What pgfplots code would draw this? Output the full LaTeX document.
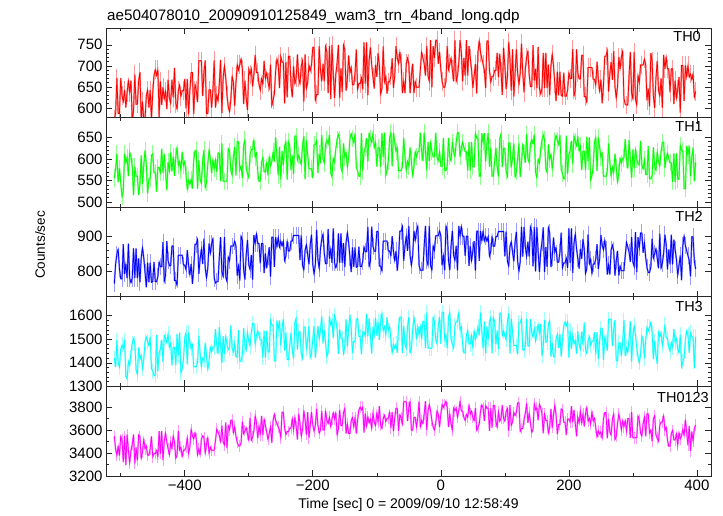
\documentclass[border=0pt]{standalone}
\usepackage{fontspec}
\setmainfont{Liberation Sans}
\usepackage{pgfplots}
\usepackage{pgfplotstable}
\pgfplotsset{compat=1.18}
\definecolor{cR}{RGB}{255,0,0}
\definecolor{cG}{RGB}{0,255,0}
\definecolor{cB}{RGB}{0,0,255}
\definecolor{cC}{RGB}{0,255,255}
\definecolor{cM}{RGB}{255,0,255}
\pgfplotstableread{
t a b c d e
-510 573 556 766 1420 3546
-508 587 578 822 1382 3434
-506 671 612 850 1496 3378
-504 587 546 864 1400 3462
-502 587 578 808 1382 3378
-500 671 546 780 1458 3546
-498 629 512 780 1476 3514
-496 615 524 878 1458 3322
-494 643 612 794 1496 3546
-492 601 590 822 1344 3294
-490 637 604 782 1331 3561
-488 665 560 880 1407 3421
-486 637 616 782 1389 3314
-484 665 604 768 1445 3421
-482 567 582 782 1483 3475
-480 595 516 866 1503 3561
-478 679 582 782 1483 3309
-476 609 560 866 1369 3449
-474 609 560 782 1351 3337
-472 665 516 838 1465 3561
-470 685 542 770 1414 3544
-468 573 608 840 1434 3352
-466 615 542 868 1376 3408
-464 573 586 840 1414 3520
-462 573 620 798 1490 3436
-460 629 586 756 1510 3464
-458 643 520 826 1490 3380
-456 601 554 770 1472 3380
-454 643 554 826 1510 3436
-452 573 608 770 1376 3544
-450 635 612 772 1365 3367
-448 677 568 828 1345 3395
-446 691 568 772 1345 3395
-444 677 524 772 1517 3423
-442 691 580 786 1365 3367
-440 579 580 828 1441 3591
-438 663 568 814 1459 3395
-436 607 624 814 1497 3591
-434 649 568 884 1403 3339
-432 621 612 772 1517 3507
-430 639 571 789 1503 3574
-428 597 527 887 1485 3494
-426 667 593 831 1523 3438
-424 625 571 817 1465 3382
-422 611 615 817 1485 3494
-420 667 571 873 1389 3438
-418 625 605 873 1465 3550
-416 695 561 775 1465 3494
-414 611 605 775 1389 3354
-412 597 627 761 1523 3382
-410 641 585 847 1432 3592
-408 655 595 847 1528 3424
-406 627 573 847 1356 3452
-404 641 617 847 1376 3368
-402 641 585 819 1414 3424
-400 669 595 819 1508 3424
-398 599 563 805 1528 3452
-396 669 529 861 1394 3536
-394 585 551 819 1528 3396
-392 641 541 791 1490 3452
-390 684 553 822 1459 3606
-388 684 531 766 1477 3550
-386 586 597 808 1383 3522
-384 656 619 878 1383 3578
-382 642 619 878 1383 3522
-380 614 531 892 1401 3382
-378 712 597 794 1515 3438
-376 712 553 836 1439 3382
-374 712 543 864 1383 3522
-372 628 597 822 1421 3550
-370 685 621 894 1409 3536
-368 713 533 810 1485 3396
-366 587 545 782 1429 3480
-364 587 589 810 1371 3536
-362 643 621 880 1409 3396
-360 643 599 852 1467 3452
-358 601 567 880 1447 3424
-356 643 599 894 1467 3424
-354 713 577 782 1467 3424
-352 601 599 768 1543 3508
-350 630 570 772 1475 3610
-348 616 614 772 1437 3582
-346 658 614 842 1551 3554
-344 714 548 898 1475 3498
-342 588 636 800 1399 3638
-340 672 548 786 1513 3498
-338 700 548 898 1437 3470
-336 672 548 786 1513 3666
-334 630 548 772 1475 3442
-332 602 624 842 1455 3638
-330 591 618 831 1463 3602
-328 619 574 873 1559 3686
-326 675 562 873 1463 3686
-324 661 606 873 1445 3574
-322 605 628 887 1483 3630
-320 661 562 873 1425 3546
-318 703 640 789 1425 3490
-316 689 640 817 1539 3462
-314 703 574 775 1407 3462
-312 717 584 901 1407 3490
-310 693 556 890 1433 3674
-308 609 632 806 1547 3566
-306 665 644 778 1471 3594
-304 623 578 848 1453 3622
-302 595 566 890 1529 3566
-300 693 556 820 1491 3510
-298 679 610 806 1471 3706
-296 693 622 848 1529 3510
-294 651 622 778 1567 3538
-292 679 644 904 1567 3594
-290 726 604 880 1478 3724
-288 684 614 908 1516 3668
-286 684 570 880 1536 3528
-284 656 548 880 1516 3640
-282 642 548 824 1498 3556
-280 670 592 880 1498 3724
-278 656 604 880 1422 3556
-276 712 570 796 1536 3696
-274 670 570 852 1422 3640
-272 684 592 810 1536 3584
-270 661 562 842 1446 3516
-268 647 606 870 1446 3572
-266 703 584 786 1580 3628
-264 605 594 898 1560 3488
-262 619 616 898 1560 3684
-260 633 594 814 1408 3740
-258 689 650 898 1408 3684
-256 717 606 870 1580 3656
-254 703 562 898 1542 3628
-252 647 628 870 1580 3600
-250 723 552 887 1472 3532
-248 709 618 873 1548 3756
-246 709 586 887 1586 3756
-244 611 630 831 1452 3616
-242 709 640 845 1528 3560
-240 625 552 887 1414 3588
-238 723 640 859 1414 3588
-236 723 630 859 1472 3616
-234 653 574 887 1528 3616
-232 625 608 887 1452 3700
-230 699 565 903 1418 3602
-228 657 653 903 1570 3714
-226 671 653 903 1590 3630
-224 727 597 903 1456 3518
-222 671 609 903 1532 3742
-220 657 597 833 1532 3658
-218 699 587 903 1438 3546
-216 713 631 819 1418 3602
-214 615 653 805 1552 3770
-212 727 553 861 1552 3686
-210 646 643 877 1460 3560
-208 660 611 849 1498 3756
-206 702 577 821 1556 3532
-204 688 577 877 1422 3644
-202 702 577 905 1442 3756
-200 744 555 821 1498 3644
-198 744 633 793 1556 3588
-196 618 633 821 1422 3644
-194 632 643 919 1480 3784
-192 632 567 835 1556 3644
-190 747 612 809 1501 3572
-188 691 590 865 1539 3600
-186 663 656 893 1597 3764
-184 705 600 907 1483 3600
-182 663 590 851 1539 3600
-180 747 634 823 1483 3764
-178 733 644 823 1425 3684
-176 635 634 921 1445 3656
-174 747 656 837 1597 3712
-172 621 568 865 1559 3628
-170 750 558 825 1580 3696
-168 680 602 923 1504 3752
-166 624 592 825 1600 3696
-164 680 624 811 1580 3752
-162 708 646 825 1542 3556
-160 750 658 909 1438 3612
-158 624 646 825 1542 3776
-156 694 580 909 1504 3640
-154 638 570 825 1504 3640
-152 750 636 881 1438 3752
-150 739 603 813 1470 3789
-148 641 615 883 1584 3569
-146 669 581 911 1470 3653
-144 725 603 883 1546 3569
-142 683 647 841 1604 3569
-140 697 659 799 1546 3681
-138 655 647 869 1442 3709
-136 655 637 813 1490 3625
-134 683 659 869 1490 3709
-132 739 581 813 1584 3569
-130 644 572 815 1588 3689
-128 658 560 871 1512 3773
-126 658 560 815 1512 3801
-124 672 660 815 1436 3773
-122 644 572 829 1532 3801
-120 756 616 871 1532 3577
-118 658 626 857 1512 3745
-116 756 648 857 1608 3633
-114 630 594 927 1512 3717
-112 714 660 815 1588 3661
-110 744 648 830 1515 3696
-108 702 638 928 1439 3612
-106 674 660 872 1553 3752
-104 646 626 858 1515 3668
-102 702 638 858 1591 3640
-100 674 582 914 1515 3752
-98 730 626 914 1573 3668
-96 702 626 816 1497 3808
-94 632 582 816 1573 3640
-92 646 660 802 1611 3612
-90 746 605 887 1537 3702
-88 662 661 887 1555 3730
-86 676 561 887 1517 3674
-84 634 573 887 1593 3702
-82 662 595 859 1537 3702
-80 662 649 859 1555 3758
-78 676 661 845 1499 3618
-76 718 583 901 1441 3758
-74 648 661 859 1479 3590
-72 676 639 831 1461 3702
-70 747 617 859 1480 3790
-68 719 627 803 1442 3790
-66 705 573 845 1556 3594
-64 733 573 915 1594 3734
-62 705 573 915 1594 3706
-60 635 583 929 1442 3650
-58 663 649 831 1556 3846
-56 635 605 873 1480 3846
-54 705 573 901 1462 3846
-52 719 595 859 1556 3678
-50 705 583 930 1594 3794
-48 635 627 846 1442 3850
-46 677 595 818 1462 3598
-44 705 561 846 1538 3598
-42 635 583 916 1594 3710
-40 663 617 888 1556 3710
-38 649 605 916 1500 3626
-36 649 617 930 1556 3710
-34 649 617 818 1518 3850
-32 691 661 804 1556 3626
-30 733 617 804 1500 3683
-28 719 595 804 1576 3655
-26 705 661 874 1576 3739
-24 677 617 930 1462 3851
-22 747 573 832 1614 3599
-20 677 639 818 1462 3767
-18 663 595 930 1462 3823
-16 761 639 818 1462 3767
-14 649 617 804 1462 3683
-12 747 605 874 1594 3627
-10 719 605 860 1576 3599
-8 761 661 902 1500 3655
-6 761 605 902 1480 3767
-4 705 595 902 1556 3739
-2 733 617 916 1594 3627
0 691 583 902 1480 3739
2 663 583 818 1614 3823
4 649 649 846 1614 3795
6 649 573 804 1500 3823
8 663 573 930 1518 3851
10 747 583 916 1462 3795
12 691 649 832 1594 3627
14 705 605 804 1614 3739
16 719 595 874 1500 3655
18 691 639 916 1480 3599
20 663 617 846 1462 3795
22 761 605 832 1556 3767
24 663 639 874 1576 3795
26 677 661 804 1576 3711
28 705 661 930 1614 3767
30 761 605 901 1538 3850
32 733 627 929 1556 3766
34 663 639 901 1480 3766
36 719 627 901 1442 3710
38 677 617 845 1442 3682
40 761 617 901 1518 3738
42 677 573 901 1538 3710
44 747 639 817 1480 3818
46 719 573 873 1480 3738
48 691 639 831 1518 3766
50 648 582 859 1461 3708
52 676 582 887 1537 3680
54 704 660 803 1499 3792
56 634 648 915 1517 3596
58 732 648 915 1555 3624
60 760 560 831 1517 3652
62 732 560 915 1613 3764
64 718 660 887 1537 3820
66 704 638 915 1461 3792
68 690 660 887 1575 3680
70 647 594 900 1440 3814
72 759 638 886 1554 3790
74 759 660 900 1498 3790
76 689 582 844 1574 3594
78 661 626 858 1592 3790
80 675 560 900 1440 3622
82 675 560 872 1592 3814
84 689 594 872 1574 3814
86 689 626 900 1478 3678
88 731 582 900 1536 3622
90 673 559 914 1459 3760
92 729 647 914 1611 3676
94 687 659 914 1611 3704
96 631 581 914 1515 3816
98 743 625 914 1535 3704
100 701 625 844 1515 3676
102 645 571 914 1497 3760
104 673 559 830 1573 3788
106 757 637 816 1611 3592
108 715 637 872 1439 3816
110 641 580 885 1588 3642
112 739 602 857 1532 3670
114 627 636 829 1474 3754
116 683 558 885 1474 3726
118 739 570 913 1474 3754
120 683 602 829 1436 3838
122 655 636 801 1570 3838
124 683 558 829 1570 3586
126 753 592 927 1588 3614
128 683 636 843 1456 3614
130 637 613 927 1453 3691
132 693 591 871 1471 3747
134 721 657 843 1585 3831
136 735 601 885 1471 3663
138 679 591 843 1471 3747
140 651 635 927 1585 3663
142 651 645 913 1529 3579
144 749 635 815 1509 3607
146 665 657 927 1547 3831
148 693 569 801 1491 3775
150 647 556 926 1526 3796
152 745 600 856 1564 3684
154 647 590 800 1526 3824
156 633 622 856 1564 3796
158 647 644 884 1430 3740
160 731 656 926 1468 3572
162 647 644 800 1582 3740
164 731 578 870 1488 3684
166 647 568 814 1488 3684
168 703 634 926 1564 3572
170 630 599 911 1578 3620
172 700 611 813 1426 3784
174 728 577 841 1484 3620
176 700 599 897 1426 3732
178 658 643 855 1426 3816
180 616 655 869 1502 3732
182 686 643 827 1522 3564
184 630 633 827 1464 3648
186 686 655 855 1522 3648
188 630 577 911 1426 3784
190 628 566 811 1498 3776
192 684 554 825 1556 3668
194 628 554 825 1574 3668
196 628 654 839 1556 3556
198 642 566 811 1574 3696
200 684 610 923 1422 3696
202 670 620 825 1536 3668
204 670 642 923 1460 3808
206 740 588 797 1518 3668
208 628 654 881 1480 3776
210 641 640 907 1495 3658
212 739 630 865 1439 3546
214 683 652 837 1533 3714
216 669 618 809 1477 3658
218 669 630 865 1457 3766
220 725 574 837 1533 3658
222 725 618 893 1477 3742
224 627 618 865 1571 3630
226 627 574 795 1457 3742
228 613 652 809 1439 3798
230 696 594 906 1492 3677
232 696 650 822 1512 3705
234 696 550 836 1474 3649
236 696 562 794 1492 3761
238 668 584 822 1492 3677
240 668 638 822 1530 3705
242 654 650 836 1436 3621
244 710 572 878 1530 3537
246 668 650 808 1416 3593
248 640 628 836 1492 3565
250 667 604 904 1547 3584
252 611 614 876 1547 3528
254 653 560 862 1413 3696
256 723 560 890 1509 3752
258 723 560 862 1489 3752
260 737 570 792 1451 3528
262 639 636 820 1585 3696
264 681 592 792 1585 3584
266 709 560 862 1585 3556
268 667 582 876 1471 3696
270 735 568 859 1543 3740
272 651 612 789 1581 3516
274 623 580 831 1409 3544
276 651 546 859 1409 3656
278 721 568 789 1485 3740
280 693 602 817 1485 3684
282 721 590 803 1429 3600
284 735 602 803 1485 3684
286 623 602 803 1581 3628
288 609 646 845 1429 3684
290 607 600 884 1463 3588
292 607 578 870 1443 3700
294 677 644 856 1501 3700
296 733 600 828 1577 3532
298 635 556 898 1405 3756
300 621 622 828 1519 3532
302 733 578 814 1557 3532
304 621 622 912 1519 3532
306 607 600 800 1463 3532
308 677 588 898 1425 3724
310 660 586 868 1400 3686
312 702 642 910 1438 3574
314 702 586 910 1514 3546
316 702 576 854 1496 3658
318 716 598 882 1420 3714
320 702 564 840 1496 3546
322 618 564 812 1552 3742
324 646 630 798 1534 3742
326 604 554 798 1552 3574
328 730 554 812 1572 3602
330 712 561 894 1530 3502
332 628 627 838 1416 3698
334 600 583 852 1492 3726
336 670 573 866 1434 3558
338 712 617 838 1396 3530
340 642 595 810 1530 3502
342 628 583 908 1510 3642
344 670 617 810 1530 3670
346 600 639 824 1472 3670
348 726 639 852 1510 3726
350 693 579 905 1563 3598
352 721 601 877 1505 3626
354 693 613 807 1505 3514
356 693 601 863 1467 3458
358 637 591 821 1449 3458
360 693 591 905 1487 3570
362 693 547 821 1467 3598
364 609 613 891 1543 3514
366 665 547 863 1487 3514
368 623 613 835 1505 3570
370 645 553 790 1460 3467
372 673 553 818 1442 3579
374 589 631 846 1518 3523
376 701 619 776 1384 3551
378 701 619 874 1404 3607
380 617 531 902 1422 3551
382 701 531 874 1498 3691
384 673 631 860 1536 3579
386 701 609 846 1518 3467
388 673 631 832 1442 3635
390 681 560 787 1528 3419
392 667 604 899 1510 3587
394 681 626 899 1510 3503
396 625 548 829 1376 3615
398 639 592 808 1510 3643
}\lc
\pgfplotsset{
  panel/.style={
    scale only axis, width=605pt, height=89.6pt, anchor=north west,
    xmin=-523, xmax=422, xtick={-400,-200,0,200,400},
    minor xtick={-500,-300,-100,100,300},
    xticklabels={}, tick align=inside,
    major tick length=6pt, minor tick length=3.5pt,
    axis line style={line width=0.8pt, black!85},
    every tick/.append style={line width=0.6pt, black!85},
    tick label style={font=\fontsize{15}{17}\selectfont},
    /pgf/number format/assume math mode=true,
    /pgf/number format/1000 sep={},
    scaled y ticks=false,
  },
  errs/.style 2 args={draw=none, mark=none, forget plot, each nth point=2,
    error bars/.cd, y dir=both, y fixed=#2, error mark=none,
    error bar style={draw=#1, line width=0.9pt}},
  halo/.style={#1, line width=1.6pt, mark=none, forget plot, line join=bevel},
  main/.style={#1, line width=0.75pt, mark=none},
}
\tikzset{lbl/.style={anchor=north east, inner sep=0pt, font=\fontsize{14.5}{17}\selectfont}}
\begin{document}
\begin{tikzpicture}
\path (-106pt,28pt) rectangle (617pt,-488pt);
% TH0
\begin{axis}[panel, at={(0pt,0pt)}, ymin=577, ymax=790, ytick={600,650,700,750}, minor y tick num=4]
\addplot[errs={cR!40}{22}] table[x=t, y=a] {\lc};
\addplot[halo={cR!45}] table[x=t, y=a] {\lc};
\addplot[main={cR}] table[x=t, y=a] {\lc};
\node[lbl, xshift=-10pt, yshift=-3pt] at (rel axis cs:1,1) {TH0};
\end{axis}
% TH1
\begin{axis}[panel, at={(0pt,-89.6pt)}, ymin=488, ymax=696, ytick={500,550,600,650}, minor y tick num=4]
\addplot[errs={cG!45}{20}] table[x=t, y=b] {\lc};
\addplot[halo={cG!50}] table[x=t, y=b] {\lc};
\addplot[main={cG}] table[x=t, y=b] {\lc};
\node[lbl, xshift=-8pt, yshift=-4pt] at (rel axis cs:1,1) {TH1};
\end{axis}
% TH2
\begin{axis}[panel, at={(0pt,-179.2pt)}, ymin=729, ymax=983, ytick={800,900}, minor y tick num=4]
\addplot[errs={cB!40}{24}] table[x=t, y=c] {\lc};
\addplot[halo={cB!45}] table[x=t, y=c] {\lc};
\addplot[main={cB}] table[x=t, y=c] {\lc};
\node[lbl, xshift=-8pt, yshift=-4pt] at (rel axis cs:1,1) {TH2};
\end{axis}
% TH3
\begin{axis}[panel, at={(0pt,-268.8pt)}, ymin=1300, ymax=1680, ytick={1300,1400,1500,1600}, minor y tick num=4]
\addplot[errs={cC!40}{32}] table[x=t, y=d] {\lc};
\addplot[halo={cC!45}] table[x=t, y=d] {\lc};
\addplot[main={cC}] table[x=t, y=d] {\lc};
\node[lbl, xshift=-8pt, yshift=-4pt] at (rel axis cs:1,1) {TH3};
\end{axis}
% TH0123
\begin{axis}[panel, at={(0pt,-358.4pt)}, ymin=3200, ymax=3980, ytick={3200,3400,3600,3800}, minor y tick num=1,
  xticklabels={−400,−200,0,200,400}]
\addplot[errs={cM!40}{50}] table[x=t, y=e] {\lc};
\addplot[halo={cM!45}] table[x=t, y=e] {\lc};
\addplot[main={cM}] table[x=t, y=e] {\lc};
\node[lbl, xshift=-2pt, yshift=-6pt] at (rel axis cs:1,1) {TH0123};
\end{axis}
\node[anchor=base west, inner sep=0pt, font=\fontsize{15.2}{17}\selectfont] at (1pt,7pt) {ae504078010\_20090910125849\_wam3\_trn\_4band\_long.qdp};
\node[rotate=90, font=\fontsize{13.5}{16}\selectfont] at (-66pt,-217pt) {Counts/sec};
\node[font=\fontsize{14}{16}\selectfont] at (302.5pt,-477pt) {Time [sec] 0 = 2009/09/10 12:58:49};
\end{tikzpicture}
\end{document}
